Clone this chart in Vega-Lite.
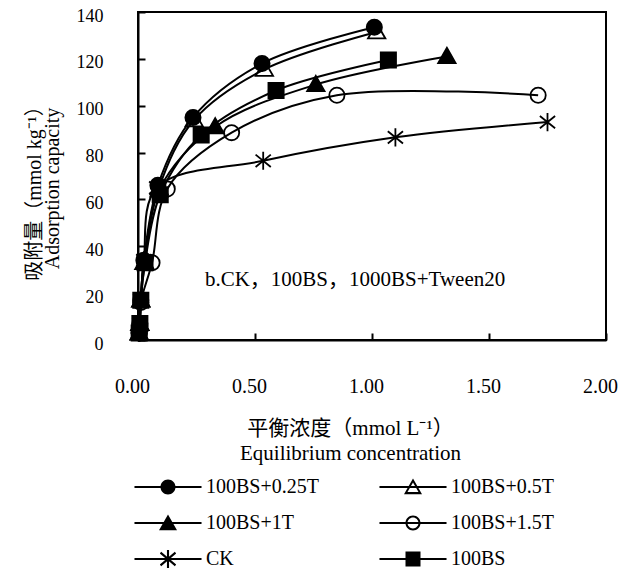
{
  "$schema": "https://vega.github.io/schema/vega-lite/v6.json",
  "width": 468,
  "height": 328,
  "autosize": "none",
  "padding": {"left": 138, "top": 12, "right": 21, "bottom": 232},
  "background": "white",
  "config": {
    "font": "Liberation Serif, Noto Sans CJK SC",
    "view": {"stroke": "black", "strokeWidth": 2},
    "legend": {"labelFont": "Liberation Serif", "titleFont": "Liberation Serif"},
    "axis": {
      "domainColor": "black", "domainWidth": 2, "tickColor": "black", "tickWidth": 2,
      "grid": false, "labelColor": "black", "titleColor": "black",
      "labelFont": "Liberation Serif", "titleFont": "Liberation Serif, Noto Sans CJK SC",
      "titleFontWeight": "normal"
    }
  },
  "resolve": {"scale": {"shape": "independent"}},
  "datasets": {
    "iso": [
      {"series": "100BS+0.25T", "c": 0.005, "q": 3},
      {"series": "100BS+0.25T", "c": 0.008, "q": 7},
      {"series": "100BS+0.25T", "c": 0.012, "q": 17},
      {"series": "100BS+0.25T", "c": 0.025, "q": 34},
      {"series": "100BS+0.25T", "c": 0.085, "q": 66},
      {"series": "100BS+0.25T", "c": 0.235, "q": 95},
      {"series": "100BS+0.25T", "c": 0.53, "q": 118},
      {"series": "100BS+0.25T", "c": 1.01, "q": 133.5},
      {"series": "100BS+0.5T", "c": 0.005, "q": 3},
      {"series": "100BS+0.5T", "c": 0.008, "q": 7},
      {"series": "100BS+0.5T", "c": 0.012, "q": 17},
      {"series": "100BS+0.5T", "c": 0.025, "q": 33},
      {"series": "100BS+0.5T", "c": 0.09, "q": 65},
      {"series": "100BS+0.5T", "c": 0.24, "q": 94},
      {"series": "100BS+0.5T", "c": 0.54, "q": 115.5},
      {"series": "100BS+0.5T", "c": 1.02, "q": 131.5},
      {"series": "100BS+1T", "c": 0.005, "q": 3},
      {"series": "100BS+1T", "c": 0.008, "q": 7},
      {"series": "100BS+1T", "c": 0.012, "q": 17},
      {"series": "100BS+1T", "c": 0.03, "q": 33},
      {"series": "100BS+1T", "c": 0.09, "q": 64},
      {"series": "100BS+1T", "c": 0.33, "q": 91},
      {"series": "100BS+1T", "c": 0.76, "q": 109},
      {"series": "100BS+1T", "c": 1.32, "q": 121},
      {"series": "100BS+1.5T", "c": 0.005, "q": 3},
      {"series": "100BS+1.5T", "c": 0.008, "q": 6},
      {"series": "100BS+1.5T", "c": 0.012, "q": 16},
      {"series": "100BS+1.5T", "c": 0.06, "q": 33},
      {"series": "100BS+1.5T", "c": 0.125, "q": 64.5},
      {"series": "100BS+1.5T", "c": 0.4, "q": 88.5},
      {"series": "100BS+1.5T", "c": 0.85, "q": 104.5},
      {"series": "100BS+1.5T", "c": 1.71, "q": 104.5},
      {"series": "CK", "c": 0.005, "q": 3},
      {"series": "CK", "c": 0.008, "q": 7},
      {"series": "CK", "c": 0.012, "q": 17},
      {"series": "CK", "c": 0.025, "q": 34},
      {"series": "CK", "c": 0.08, "q": 65},
      {"series": "CK", "c": 0.535, "q": 76.5},
      {"series": "CK", "c": 1.1, "q": 86.5},
      {"series": "CK", "c": 1.75, "q": 93},
      {"series": "100BS", "c": 0.005, "q": 3},
      {"series": "100BS", "c": 0.008, "q": 7},
      {"series": "100BS", "c": 0.012, "q": 17},
      {"series": "100BS", "c": 0.03, "q": 33},
      {"series": "100BS", "c": 0.095, "q": 62},
      {"series": "100BS", "c": 0.27, "q": 87.5},
      {"series": "100BS", "c": 0.59, "q": 106.5},
      {"series": "100BS", "c": 1.07, "q": 119.5}
    ],
    "note": [
      {"c": 0.286, "q": 25.5, "label": "b.CK，100BS，1000BS+Tween20"}
    ]
  },
  "layer": [
    {
      "data": {"name": "iso"},
      "mark": {"type": "line", "interpolate": "catmull-rom", "stroke": "black", "strokeWidth": 2},
      "encoding": {
        "x": {
          "field": "c", "type": "quantitative",
          "scale": {"domain": [0, 2], "nice": false, "zero": false},
          "axis": {
            "values": [0, 0.5, 1, 1.5, 2], "format": ".2f",
            "tickSize": -7, "labelPadding": 43, "labelFontSize": 20, "labelOffset": -6,
            "labelFlush": false,
            "title": ["平衡浓度（mmol L⁻¹）", "Equilibrium concentration"],
            "titleFontSize": 21, "titleLineHeight": 25,
            "titleX": 212, "titleY": 94, "titleAlign": "center", "titleBaseline": "alphabetic"
          }
        },
        "y": {
          "field": "q", "type": "quantitative",
          "scale": {"domain": [0, 140], "nice": false},
          "axis": {
            "values": [0, 20, 40, 60, 80, 100, 120, 140],
            "tickSize": -7, "labelPadding": 42, "labelFontSize": 18, "labelOffset": 4,
            "labelFlush": false,
            "title": ["吸附量（mmol kg⁻¹）", "Adsorption capacity"],
            "titleFontSize": 20, "titleLineHeight": 18,
            "titleX": -98, "titleY": 176, "titleAngle": -90, "titleAlign": "center", "titleBaseline": "alphabetic"
          }
        },
        "detail": {"field": "series", "type": "nominal"}
      }
    },
    {
      "data": {"name": "iso"},
      "mark": {"type": "point", "filled": true, "stroke": "black", "strokeWidth": 1.8, "opacity": 1, "size": 210},
      "encoding": {
        "x": {"field": "c", "type": "quantitative"},
        "y": {"field": "q", "type": "quantitative"},
        "shape": {
          "field": "series", "type": "nominal",
          "scale": {
            "domain": ["100BS+0.25T", "100BS+0.5T", "100BS+1T", "100BS+1.5T", "CK", "100BS"],
            "range": [
              "M1.05,0A1.05,1.05 0 1,1 -1.05,0A1.05,1.05 0 1,1 1.05,0Z",
              "M0,-1.2L1.2,0.9L-1.2,0.9Z",
              "M0,-1.2L1.2,0.9L-1.2,0.9Z",
              "M1.05,0A1.05,1.05 0 1,1 -1.05,0A1.05,1.05 0 1,1 1.05,0Z",
              "M0,-1.25V1.25M-1.05,-0.85L1.05,0.85M-1.05,0.85L1.05,-0.85",
              "M-1.05,-1.05H1.05V1.05H-1.05Z"
            ]
          },
          "legend": null
        },
        "fill": {
          "field": "series", "type": "nominal",
          "scale": {
            "domain": ["100BS+0.25T", "100BS+0.5T", "100BS+1T", "100BS+1.5T", "CK", "100BS"],
            "range": ["black", "transparent", "black", "transparent", "black", "black"]
          },
          "legend": null
        }
      }
    },
    {
      "data": {"values": []},
      "mark": {"type": "point", "filled": true, "color": "black", "opacity": 1, "strokeWidth": 0},
      "encoding": {
        "x": {"field": "c", "type": "quantitative"},
        "y": {"field": "q", "type": "quantitative"},
        "shape": {
          "field": "series", "type": "nominal",
          "scale": {
            "domain": ["100BS+0.25T", "100BS+0.5T", "100BS+1T", "100BS+1.5T", "CK", "100BS"],
            "range": [
              "M-4.47,-0.14H4.47V0.14H-4.47ZM1,0A1,1 0 1,1 -1,0A1,1 0 1,1 1,0Z",
              "M-4.47,-0.14H4.47V0.14H-4.47ZM0,-1.15L1.2,0.95L-1.2,0.95ZM0,-0.605L-0.734,0.68L0.734,0.68Z",
              "M-4.47,-0.14H4.47V0.14H-4.47ZM0,-1.15L1.2,0.95L-1.2,0.95Z",
              "M-4.47,-0.14H4.47V0.14H-4.47ZM1,0A1,1 0 1,1 -1,0A1,1 0 1,1 1,0ZM0.73,0A0.73,0.73 0 1,0 -0.73,0A0.73,0.73 0 1,0 0.73,0Z",
              "M-4.47,-0.14H4.47V0.14H-4.47ZM-0.14,-1.2H0.14V1.2H-0.14ZM-1.091,-0.743L-0.909,-0.957L1.091,0.743L0.909,0.957ZM-1.091,0.743L0.909,-0.957L1.091,-0.743L-0.909,0.957Z",
              "M-4.47,-0.14H4.47V0.14H-4.47ZM-1,-1H1V1H-1Z"
            ]
          },
          "legend": {
            "orient": "none", "legendX": 20, "legendY": 465,
            "title": null, "columns": 2, "direction": "horizontal",
            "padding": 0, "columnPadding": 60, "rowPadding": 16,
            "symbolSize": 225, "symbolStrokeWidth": 0, "symbolFillColor": "black", "symbolOpacity": 1,
            "labelFont": "Liberation Serif", "labelFontSize": 20, "labelColor": "black",
            "labelOffset": 28, "labelLimit": 300
          }
        }
      }
    },
    {
      "data": {"name": "note"},
      "mark": {"type": "text", "align": "left", "baseline": "middle", "fontSize": 21, "font": "Liberation Serif, Noto Sans CJK SC", "color": "black"},
      "encoding": {
        "x": {"field": "c", "type": "quantitative"},
        "y": {"field": "q", "type": "quantitative"},
        "text": {"field": "label"}
      }
    }
  ]
}
